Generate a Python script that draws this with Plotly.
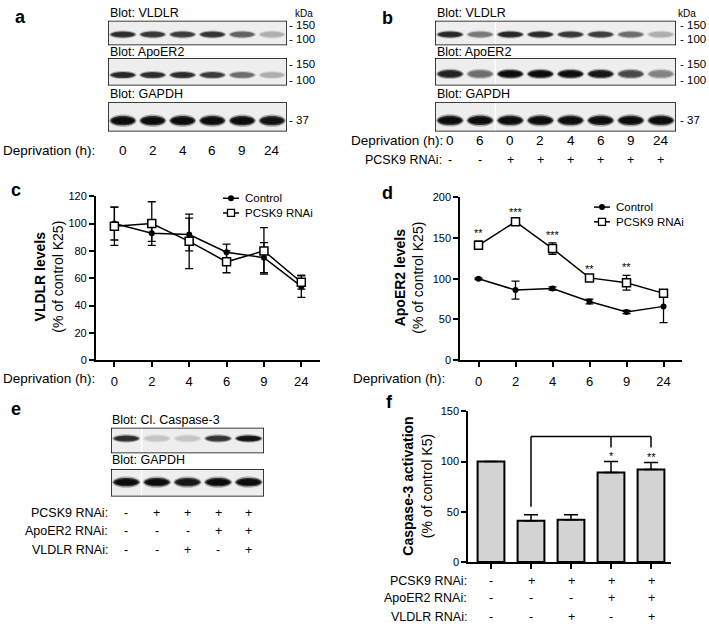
import plotly.graph_objects as go

W, H = 709, 629
FONT = "Liberation Sans, Arial, sans-serif"

# ---- panel c : VLDLR levels ----
dep_hours = ["0", "2", "4", "6", "9", "24"]
vldlr_ctrl = [100, 93, 92, 79, 75, 54]
vldlr_ctrl_err = [12, 6, 12, 6, 11, 8]
vldlr_pcsk9 = [98, 100, 87, 72, 80, 57]
vldlr_pcsk9_err = [14, 16, 20, 8, 17, 5]

# ---- panel d : ApoER2 levels ----
apoer2_ctrl = [100, 86, 88, 72, 59, 66]
apoer2_ctrl_err = [1, 11, 2, 3, 2, 20]
apoer2_pcsk9 = [141, 170, 137, 101, 95, 82]
apoer2_pcsk9_err = [5, 2, 7, 1, 9, 4]
apoer2_stars = ["**", "***", "***", "**", "**", ""]

# ---- panel f : caspase-3 activation ----
f_groups = ["ctrl", "pcsk9", "pcsk9_vldlr", "pcsk9_apoer2", "pcsk9_both"]
casp_act = [100, 41, 42, 89, 92]
casp_err = [0, 6, 5, 11, 7]
casp_stars = ["", "", "", "*", "**"]
pcsk9_rnai = ["-", "+", "+", "+", "+"]
apoer2_rnai = ["-", "-", "-", "+", "+"]
vldlr_rnai = ["-", "-", "+", "-", "+"]

# ---- blots (band darkness 0..1 per lane) ----
blot_a_hours = ["0", "2", "4", "6", "9", "24"]
blot_a_vldlr = [0.85, 0.8, 0.78, 0.82, 0.6, 0.25]
blot_a_apoer2 = [0.88, 0.85, 0.85, 0.78, 0.55, 0.25]
blot_a_gapdh = [1, 1, 1, 1, 1, 0.97]

blot_b_hours = ["0", "6", "0", "2", "4", "6", "9", "24"]
blot_b_pcsk9 = ["-", "-", "+", "+", "+", "+", "+", "+"]
blot_b_vldlr = [0.88, 0.5, 0.88, 0.86, 0.8, 0.78, 0.55, 0.25]
blot_b_apoer2 = [0.9, 0.55, 1, 1, 1, 0.95, 0.72, 0.45]
blot_b_gapdh = [1, 1, 1, 1, 1, 1, 1, 1]

blot_e_casp = [0.85, 0.15, 0.15, 0.82, 0.97]
blot_e_gapdh = [1, 1, 0.95, 1, 1]


def fx(p):
    return p / W


def fy(p):
    return 1 - p / H


def gray(d):
    v = int(round(228 - 216 * d))
    return "rgb(%d,%d,%d)" % (v, v, v)


fig = go.Figure()
layout_axes = {}
shapes = []
annots = []


def txt(x, y, s, size=12.5, xanchor="center", yanchor="middle", bold=False, xref="paper", yref="paper", **kw):
    if bold:
        s = "<b>" + s + "</b>"
    annots.append(dict(x=x, y=y, text=s, showarrow=False, xref=xref, yref=yref,
                       xanchor=xanchor, yanchor=yanchor,
                       font=dict(family=FONT, size=size, color="black"), **kw))


# line/scatter charts c and d
axis_common = dict(showline=True, linecolor="black", linewidth=1.5, ticks="outside",
                   ticklen=5, tickwidth=1.5, tickcolor="black", showgrid=False,
                   zeroline=False, tickfont=dict(family=FONT, size=11, color="black"))

layout_axes["xaxis"] = dict(axis_common, domain=[fx(95.7), fx(320)], anchor="y", type="category",
                            range=[-0.5, 5.5], tickfont=dict(family=FONT, size=13, color="black"),
                            ticklabelstandoff=4)
layout_axes["yaxis"] = dict(axis_common, domain=[fy(361), fy(194)], anchor="x", range=[0, 120], dtick=20)
layout_axes["xaxis2"] = dict(axis_common, domain=[fx(460), fx(682)], anchor="y2", type="category",
                             range=[-0.5, 5.5], tickfont=dict(family=FONT, size=13, color="black"),
                             ticklabelstandoff=4)
layout_axes["yaxis2"] = dict(axis_common, domain=[fy(361), fy(195)], anchor="x2", range=[0, 200], dtick=50)
layout_axes["xaxis3"] = dict(axis_common, domain=[fx(468), fx(671)], anchor="y3", type="category",
                             range=[-0.575, 4.5], showticklabels=False)
layout_axes["yaxis3"] = dict(axis_common, domain=[fy(566.7), fy(413.3)], anchor="x3", range=[0, 150], dtick=50)


def err(arr):
    return dict(type="data", array=arr, color="black", thickness=1.3, width=4)


ctrl_marker = dict(symbol="circle", size=6, color="black")
pcsk9_marker = dict(symbol="square", size=8, color="white", line=dict(color="black", width=1.5))

for xa, ya, ctrl, ctrl_e, pc, pc_e in [
        ("x", "y", vldlr_ctrl, vldlr_ctrl_err, vldlr_pcsk9, vldlr_pcsk9_err),
        ("x2", "y2", apoer2_ctrl, apoer2_ctrl_err, apoer2_pcsk9, apoer2_pcsk9_err)]:
    fig.add_trace(go.Scatter(x=dep_hours, y=ctrl, error_y=err(ctrl_e), mode="lines+markers",
                             name="Control", xaxis=xa, yaxis=ya, showlegend=False, cliponaxis=False,
                             line=dict(color="black", width=1.5), marker=ctrl_marker))
    fig.add_trace(go.Scatter(x=dep_hours, y=pc, error_y=err(pc_e), mode="lines+markers",
                             name="PCSK9 RNAi", xaxis=xa, yaxis=ya, showlegend=False, cliponaxis=False,
                             line=dict(color="black", width=1.5), marker=pcsk9_marker))

# category axes: annotate by index position
for i, (v, e, s) in enumerate(zip(apoer2_pcsk9, apoer2_pcsk9_err, apoer2_stars)):
    if s:
        txt(i, v + e, s, size=11, yanchor="bottom", xref="x2", yref="y2")

# legends drawn by hand (compact, like the original)
lw = dict(color="black", width=1.5)
for lx, ly in [(223, 196), (594, 205)]:
    for k, (name, kind) in enumerate([("Control", "circle"), ("PCSK9 RNAi", "rect")]):
        yy = fy(ly + 15 * k)
        shapes.append(dict(type="line", xref="paper", yref="paper", x0=fx(lx), x1=fx(lx + 16),
                           y0=yy, y1=yy, line=lw))
        sz = 3 if kind == "circle" else 3.5
        shapes.append(dict(type=kind, xref="paper", yref="paper", xsizemode="pixel", ysizemode="pixel",
                           xanchor=fx(lx + 8), yanchor=yy, x0=-sz, x1=sz, y0=-sz, y1=sz,
                           fillcolor="black" if kind == "circle" else "white",
                           line=dict(color="black", width=1.3 if kind == "rect" else 0)))
        txt(fx(lx + 20), yy, name, size=11.5, xanchor="left")

# bar chart f
fig.add_trace(go.Bar(x=f_groups, y=casp_act, xaxis="x3", yaxis="y3", width=0.67, showlegend=False,
                     marker=dict(color="#d3d3d3", line=dict(color="black", width=2)),
                     error_y=dict(type="data", symmetric=False, array=casp_err,
                                  arrayminus=[0] * len(casp_err), color="black", thickness=1.5, width=7)))
for g, v, e, s in zip(f_groups, casp_act, casp_err, casp_stars):
    if s:
        txt(g, v + e, s, size=11, yanchor="bottom", xref="x3", yref="y3", yshift=-2)

# significance bracket in f
b0 = f_groups.index("pcsk9")
b_targets = [f_groups.index("pcsk9_apoer2"), f_groups.index("pcsk9_both")]
shapes.append(dict(type="line", xref="x3", yref="y3", x0=b0, x1=b0, y0=55, y1=125, line=lw))
shapes.append(dict(type="line", xref="x3", yref="y3", x0=b0, x1=max(b_targets), y0=125, y1=125, line=lw))
for t in b_targets:
    shapes.append(dict(type="line", xref="x3", yref="y3", x0=t, x1=t, y0=125, y1=114, line=lw))

# condition rows below f
rows_f = [("PCSK9 RNAi:", pcsk9_rnai, 585.7), ("ApoER2 RNAi:", apoer2_rnai, 604),
          ("VLDLR RNAi:", vldlr_rnai, 623)]
for lab, signs, y in rows_f:
    txt(fx(469), fy(y), lab, xanchor="right")
    for g, s in zip(f_groups, signs):
        txt(g, fy(y), s, xref="x3")

# ---- blots ----
blots = [
    # (values, x0px, x1px, y0px, y1px, band centre (0..1), half-height, splices)
    (blot_a_vldlr, 108, 287, 15, 40, 0.44, 0.12, []),
    (blot_a_apoer2, 108, 287, 53, 81, 0.38, 0.11, []),
    (blot_a_gapdh, 108, 287, 98, 128, 0.37, 0.155, []),
    (blot_b_vldlr, 435, 676, 15, 40, 0.44, 0.12, [1.5]),
    (blot_b_apoer2, 435, 676, 53, 81, 0.42, 0.14, [1.5]),
    (blot_b_gapdh, 435, 676, 98, 128, 0.38, 0.155, [1.5]),
    (blot_e_casp, 111, 264, 430, 456, 0.58, 0.12, [0.5]),
    (blot_e_gapdh, 111, 264, 472, 500, 0.52, 0.15, [0.5]),
]
for k, (vals, x0, x1, y0, y1, yc, hh, splices) in enumerate(blots):
    n = len(vals)
    ax = str(k + 4)
    layout_axes["xaxis" + ax] = dict(domain=[fx(x0), fx(x1)], range=[-0.5, n - 0.5], visible=False,
                                     anchor="y" + ax, fixedrange=True)
    layout_axes["yaxis" + ax] = dict(domain=[fy(y1), fy(y0)], range=[0, 1], visible=False,
                                     anchor="x" + ax, fixedrange=True)
    xr, yr = "x" + ax, "y" + ax
    shapes.append(dict(type="rect", xref=xr, yref=yr, x0=-0.5, x1=n - 0.5, y0=0, y1=1,
                       fillcolor="#eeeeee", line=dict(width=0), layer="below"))
    for sp in splices:
        shapes.append(dict(type="line", xref=xr, yref=yr, x0=sp, x1=sp, y0=0, y1=1,
                           line=dict(color="white", width=1.2), layer="below"))
    for i, d in enumerate(vals):
        for w, h, op in [(0.46, hh * 1.8, 0.3), (0.42, hh * 1.35, 0.75), (0.37, hh * 0.95, 1.0)]:
            path = ("M %.3f,%.3f C %.3f,%.3f %.3f,%.3f %.3f,%.3f C %.3f,%.3f %.3f,%.3f %.3f,%.3f Z"
                    % (i - w, yc, i - w * 0.9, yc + h, i + w * 0.9, yc + h, i + w, yc,
                       i + w * 0.9, yc - h, i - w * 0.9, yc - h, i - w, yc))
            shapes.append(dict(type="path", xref=xr, yref=yr, path=path, fillcolor=gray(d),
                               opacity=op, line=dict(width=0), layer="above"))
    shapes.append(dict(type="rect", xref=xr, yref=yr, x0=-0.5, x1=n - 0.5, y0=0, y1=1,
                       fillcolor="rgba(0,0,0,0)", line=dict(color="black", width=1.5), layer="above"))

# blot titles
for x, y, s in [(108, 7, "Blot: VLDLR"), (108, 47, "Blot: ApoER2"), (108, 90, "Blot: GAPDH"),
                (435, 7, "Blot: VLDLR"), (435, 47, "Blot: ApoER2"), (435, 90, "Blot: GAPDH"),
                (110, 422, "Blot: Cl. Caspase-3"), (110, 463, "Blot: GAPDH")]:
    txt(fx(x), fy(y), s, xanchor="left")

# molecular weight markers
for xk, xm in [(304, 287), (687, 678)]:
    txt(fx(xk), fy(8), "kDa", size=10)
    for y, s in [(19, "- 150"), (34, "- 100"), (59, "- 150"), (75, "- 100"), (116, "- 37")]:
        txt(fx(xm), fy(y), s, size=11.5, xanchor="left")

# lane labels
txt(fx(97), fy(147), "Deprivation (h):", size=13.5, xanchor="right")
for i, h in enumerate(blot_a_hours):
    txt(i, fy(147), h, size=13.5, xref="x4")
txt(fx(445), fy(137), "Deprivation (h):", size=13.5, xanchor="right")
txt(fx(444), fy(157), "PCSK9 RNAi:", size=12.5, xanchor="right")
for i, (h, s) in enumerate(zip(blot_b_hours, blot_b_pcsk9)):
    txt(i, fy(137), h, size=13.5, xref="x7")
    txt(i, fy(157), s, size=12.5, xref="x7")

rows_e = [("PCSK9 RNAi:", pcsk9_rnai, 516.7), ("ApoER2 RNAi:", apoer2_rnai, 535.7),
          ("VLDLR RNAi:", vldlr_rnai, 555)]
for lab, signs, y in rows_e:
    txt(fx(110), fy(y), lab, xanchor="right")
    for i, s in enumerate(signs):
        txt(i, fy(y), s, xref="x10")

# deprivation labels under c and d
txt(fx(97), fy(380), "Deprivation (h):", size=13.5, xanchor="right")
txt(fx(447), fy(380), "Deprivation (h):", size=13.5, xanchor="right")

# axis titles
txt(fx(49), fy(276), "<b>VLDLR levels</b><br>(% of control K25)", size=14, textangle=-90)
txt(fx(409), fy(277), "<b>ApoER2 levels</b><br>(% of control K25)", size=14, textangle=-90)
txt(fx(417), fy(490), "<b>Caspase-3 activation</b><br>(% of control K5)", size=14, textangle=-90)

# panel letters
for x, y, s in [(20, 11, "a"), (387, 12, "b"), (16, 188, "c"), (387, 191, "d"),
                (16, 411, "e"), (389, 404, "f")]:
    txt(fx(x), fy(y), s, size=18, bold=True)

fig.update_layout(
    width=W, height=H, margin=dict(l=0, r=0, t=0, b=0),
    paper_bgcolor="white", plot_bgcolor="white",
    font=dict(family=FONT, color="black"),
    showlegend=False,
    shapes=shapes, annotations=annots,
    **layout_axes,
)

fig.write_html("out.html", config={"displayModeBar": False},
               post_script="document.body.style.margin='0';document.body.style.padding='0';")
